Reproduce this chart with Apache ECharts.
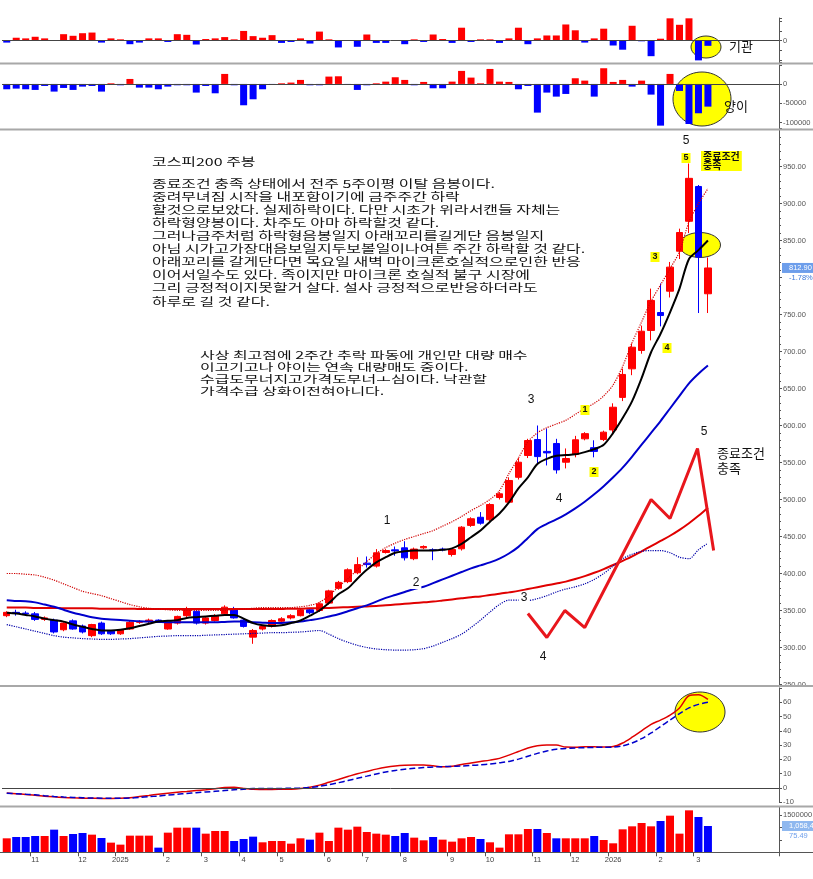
<!DOCTYPE html>
<html><head><meta charset="utf-8">
<script src="https://cdn.jsdelivr.net/npm/echarts@6/dist/echarts.min.js"></script>
<style>html,body{margin:0;padding:0;background:#fff}#c{width:813px;height:879px}</style>
</head><body><div id="c"></div><script>
// ---------- DATA ----------
const weeks = ['2024-10-07','2024-10-14','2024-10-21','2024-10-28','2024-11-04','2024-11-11','2024-11-18','2024-11-25','2024-12-02','2024-12-09','2024-12-16','2024-12-23','2024-12-30',
'2025-01-06','2025-01-13','2025-01-20','2025-01-27','2025-02-03','2025-02-10','2025-02-17','2025-02-24','2025-03-03','2025-03-10','2025-03-17','2025-03-24','2025-03-31','2025-04-07','2025-04-14','2025-04-21','2025-04-28','2025-05-05','2025-05-12','2025-05-19','2025-05-26','2025-06-02','2025-06-09','2025-06-16','2025-06-23','2025-06-30','2025-07-07','2025-07-14','2025-07-21','2025-07-28','2025-08-04','2025-08-11','2025-08-18','2025-08-25','2025-09-01','2025-09-08','2025-09-15','2025-09-22','2025-09-29','2025-10-06','2025-10-13','2025-10-20','2025-10-27','2025-11-03','2025-11-10','2025-11-17','2025-11-24','2025-12-01','2025-12-08','2025-12-15','2025-12-22','2025-12-29',
'2026-01-05','2026-01-12','2026-01-19','2026-01-26','2026-02-02','2026-02-09','2026-02-16','2026-02-23','2026-03-02','2026-03-09'];
const monthLabels = {'2024-10-28':'11','2024-12-02':'12','2024-12-30':'2025','2025-02-03':'2','2025-03-03':'3','2025-03-31':'4','2025-04-28':'5','2025-06-02':'6','2025-06-30':'7','2025-07-28':'8','2025-09-01':'9','2025-09-29':'10','2025-11-03':'11','2025-12-01':'12','2025-12-29':'2026','2026-02-02':'2','2026-03-02':'3'};

const opens = [343,347.5,346.5,345.5,338,337,324,336,329,316, 333,322,318.5,325,334,335,337,325,333,343, 349,333,336.5,345.5,351,337,314,325,328.8,335.5, 340,343,351,350,360,380,389,401,414,410, 428.4,432,434.7,420,434.7,432,433,425.7,433.4,465, 476,472.6,502.7,496.4,530,559.5,581,565,575.7,550.4, 561,582,570,581,594,638,676.6,701.4,728.4,752.7, 781.5,835.5,876,923,778];
const closes = [347.5,346.5,345.5,338,340,321,333,325,321,331, 318.5,318.5,324,334,335,337,336,333,342,352, 333,340,343,354.5,340,328.5,323,328.4,336.5,338.8, 343,350.8,347,359,376.5,388,405,412,412,428, 431,430.5,421.2,433,436.5,431,432,432.4,462.6,474, 468,493.2,507.7,525.7,550.4,579.7,558,563,540,555.4, 580.7,589,565,591,624.7,669,705.8,727.4,769,748.6, 814,860.8,934,827.6,812.9];
const lows = [341,343,343,336,336,319,322,324,319,314, 317,317,317,324,332,333,334,324,331,341, 331,331,335,344,339,327,305,323,327,334, 338,342,345,348,358,378,387,399,408,408, 427,424,417.6,418,433,418,430,423,431,463, 466,470,500,494,527,556,549,546,535,542, 557,580,557,579,590,633,668,697,715,734, 773,825,860,752,752];
const highs = [349,351,349,348,342,339,334,338,331,332, 335,323,325,336,337,339,338,335,343,355, 353,341,345,357,355,339,325,330,338,341, 345,352,353,361,378,390,407,422,423,433, 433,436.5,443.6,435,438,434,435,434,464,476, 483,495,510,530,556,582,600,596,582,569, 586,591,580,593,630,677,711,735,785,792, 821,866,954,925,827];

const ma5 = [347,346,344,342,339,337,335,331,328,325, 323,323,324,326,329,332,335,336,337,340, 341,342,343,344,344,339,333,330,329,330, 333,336.5,343,350,360,372,380,393,405,415, 422,428,430,431,431,431,432,434,440,449, 458,470,481,496,515,530,548,555,559,560, 561,564,568,574,590,610,633,664,699,724, 753,785,825,837,850];
const ma20 = [364,363,362.5,361,358,355,351,347,344,341, 339,338,337,336,335.5,335,334.5,334,334,334, 334,334,334,334.5,335,335,334,333.5,333,333, 334,335,337,339,342,345,349,353,357,362, 367,371,375,379,382,387,392,397,402,407, 411,415,420,427,436,448,460,467,473,480, 488,497,507,518,530,543,558,574,590,606, 623,640,657,670,681];
const ma60 = [354,354,354,353.5,353.5,353.5,353,353,353,353, 352.5,352.5,352.5,352.5,352,352,352,352,352,352, 352,352,352,352,352,352,352,352,352,352, 352.5,352.5,353,353,353.5,354,354.5,355,355.5,356, 357,358,359,360,361,362,363.5,365,366.5,368, 369,371,372.5,374.5,376.5,379,381.5,384,386.5,389, 392.5,396.5,401,406,411.5,417,423,430,437,444, 451,459,468,478,489];
const bbUpper = [400,400,399,398,395,391,386,381,376,373, 370,366,362,358,355,353,352,351,350,350, 350,350,350,350,351,352,353,354,354,354, 354,355,357,361,370,382,393,405,416,427, 435,441,446,450,454,458,464,470,477,485, 492,500,512,535,556,578,590,597,602,607, 615,623,630,640,655,680,712,740,768,790, 812,835,875,900,920];
const bbLower = [331,328,325,322,319,316,314,313,312,311.5, 311,311,311.5,312,313,314,315,315.5,316,316, 316,316.5,317,317.5,318,318.5,319,319.5,320,320, 320.5,321,322,323,318,312,307,303,300,298, 297,296.5,296.5,297,298.5,302,307,312,318,327, 337,348,358,364,364,363.5,366,370,375,379, 382,386,392,400,410,420,426,430,431,431, 428,422,420,432,441];

// 기관 (institution) weekly net
const instFlow = [-6000,9000,7000,12000,7000,500,20000,15000,23000,25000, -6000,7000,4000,-11000,-6000,7000,7000,-4000,20000,18000, -12000,5000,7000,11000,4000,30000,14000,9000,17000,-7000, -4000,7000,-9000,28000,4000,-21000,1000,-19000,19000,-7000, -7000,2000,-11000,4000,-4000,19000,5000,-7000,40000,-4000, 4000,4000,-7000,7000,40000,-11000,7000,16000,16000,50000, 32000,-6000,7000,37000,-15000,-28000,46000,-2000,-48000,6000, 69000,49000,69000,-61000,-16000];
// 양이 (foreign) weekly net
const foreignFlow = [-13800,-12100,-13800,-15500,-5200,-19800,-10400,-15500,-6900,-5200, -19800,1700,-3500,12900,-9500,-9500,-13800,-6900,-3500,-3500, -22400,-5200,-24200,25900,-3500,-55200,-39700,-13800,-2600,1700, 3500,10400,-3500,-3500,19000,19800,-1700,-15500,-3500,1700, 6000,17300,10400,-3500,5200,-11200,-11200,6000,33700,16400, 1700,38800,6000,5200,-13800,-5200,-74200,-22400,-32800,-25900, 14700,8600,-32800,40600,5200,10400,-6900,8600,-27600,-107900, 25900,-18100,-103600,-75900,-58700];

const oscMain = [-3.5,-4,-4.5,-5,-5.7,-6.2,-6.6,-6.9,-7.1,-7.2, -7.3,-7.3,-7.2,-6.8,-6,-5.2,-4.4,-3.7,-3,-2.4, -1.8,-1.2,-0.5,0.3,0.5,-0.3,-0.9,-1,-1,-0.9, -0.8,-0.3,0.6,2,4,6,8,10,11.6,13.2, 14.5,15.4,15.9,16.1,16.1,15.5,14.8,15.2,16.5,17.5, 18.5,19.5,20.7,23,25.5,28,29.5,30,30,28.6, 28.5,28.8,28.8,28.7,29,31.5,35.5,40,44.5,47.5, 51,56,64.5,65.2,62];
const oscSignal = [-3.7,-4,-4.4,-4.8,-5.4,-5.9,-6.3,-6.6,-6.8,-7, -7.1,-7.2,-7.2,-7,-6.6,-6.1,-5.6,-5,-4.4,-3.8, -3.3,-2.8,-2.3,-1.8,-1.3,-0.8,-0.4,-0.3,-0.3,-0.3, -0.2,-0.1,0.4,1.2,2.3,3.7,5.2,6.8,8.3,9.8, 11.2,12.3,13.1,13.8,14.3,14.7,14.9,15.1,15.4,15.8, 16.2,16.8,17.6,18.6,20.2,22.2,24.2,25.9,27.1,27.7, 28,28.2,28.4,28.5,28.6,29.5,31.5,34.5,38.5,43, 47.5,52,56,58.5,60];

const volume = [562500,616100,616100,656300,656300,910700,656300,736600,776800,709800, 575900,388400,308000,669600,669600,669600,187500,790200,991100,991100, 991100,750000,857200,857200,455400,535700,629500,401800,455400,455400, 348200,562500,508900,790200,455400,991100,910700,1031300,817000,750000, 709800,656300,776800,589300,482100,616100,508900,428600,562500,616100, 535700,401800,187500,723200,723200,937500,937500,776800,562500,562500, 562500,562500,656300,495500,361600,924100,1044700,1178600,1044700,1258900, 1473200,750000,1687500,1419700,1058412];
const volUp = [1,0,0,0,1,0,1,0,0,1, 0,1,1,1,1,1,0,1,1,1, 0,1,1,1,0,0,0,1,1,1, 1,1,0,1,1,1,1,1,1,1, 1,0,0,1,1,0,1,1,1,1, 0,1,1,1,1,1,0,1,0,1, 1,1,0,1,1,1,1,1,1,0, 1,1,1,0,0];
const volExtraLabel = '75.49';

// hand-drawn wave annotation (bar index, price)
const waveIdx = [55,57,58.9,61,68,70,72.9,74.6];
const wavePrice = [346,313.5,350,327,500,474.3,569,431];

// texts
const noteTitle = '코스피200 주봉';
const noteLines = [
 '종료조건 충족 상태에서 전주 5주이평 이탈 음봉이다.',
 '중려무녀짐 시작을 내포함이기에 금주주간 하락',
 '할것으로보았다. 실제하락이다. 다만 시초가 위라서캔들 자체는',
 '하락형양봉이다. 차주도 아마 하락할것 같다.',
 '그러나금주처럼 하락형음봉일지 아래꼬리를길게단 음봉일지',
 '아님 시가고가장대음보일지두보볼일이나여튼 주간 하락할 것 같다.',
 '아래꼬리를 갈게단다면 목요일 새벽 마이크론호실적으로인한 반응',
 '이어서일수도 있다. 족이지만 마이크론 호실적 불구 시장에',
 '그리 긍정적이지못할거 살다. 설사 긍정적으로반응하더라도',
 '하루로 길 것 같다.'
];
const note2Lines = [
 '사상 최고점에 2주간 추락 파동에 개인만 대량 매수',
 '이고기고나 야이는 연속 대량매도 중이다.',
 '수급도무너지고가격도무너ㅗ심이다. 낙관할',
 '가격수급 상화이전혀아니다.'
];

// ---------- CHART ----------
const RED = '#ff0000', BLUE = '#0000ff';
const N_SLOTS = 82;
const cats = weeks.concat(Array.from({length: N_SLOTS - weeks.length}, (_, k) => 'pad' + k));
const L = 2, R = 34;
const AX = '#555';
const FONT = 'Liberation Sans';
const KFONT = '"Noto Sans CJK KR"';

const grids = [
  {left:L, right:R, top:18, height:44},
  {left:L, right:R, top:65, height:63},
  {left:L, right:R, top:129.5, height:555},
  {left:L, right:R, top:687.9, height:114.4},
  {left:L, right:R, top:806.5, height:45.8}
].map(g => Object.assign(g, {containLabel:false, outerBoundsMode:'none'}));

function hiddenCat(gi){
  return {type:'category', gridIndex:gi, data:cats, boundaryGap:true, axisLine:{show:false}, axisTick:{show:false}, axisLabel:{show:false}, splitLine:{show:false}};
}
const isLabeled = (i, v) => monthLabels[v] !== undefined;
const lbl = (fmt) => ({show:true, fontSize:7.5, color:'#555', fontFamily:FONT, margin:4, formatter:fmt});

const yBase = (gi, extra) => Object.assign({
  type:'value', gridIndex:gi, position:'right', scale:false,
  axisLine:{show:true, onZero:false, lineStyle:{color:AX, width:1}},
  axisTick:{show:true, length:3, lineStyle:{color:AX}},
  splitLine:{show:false}
}, extra);

const lineS = (data, color, width, type, extra) => Object.assign({
  type:'line', xAxisIndex:2, yAxisIndex:2, data, symbol:'none', smooth:0.3,
  lineStyle:{color, width, type}, silent:true, z:3
}, extra || {});

const zeroMark = {silent:true, symbol:['none','none'], label:{show:false},
  lineStyle:{color:'#444', width:1, type:'solid'}, data:[{yAxis:0}]};

const option = {
  animation:false,
  backgroundColor:'#fff',
  grid: grids,
  xAxis: [
    hiddenCat(0), hiddenCat(1), hiddenCat(2), hiddenCat(3),
    {type:'category', gridIndex:4, data:cats, boundaryGap:true,
     axisLine:{show:false},
     axisTick:{show:true, interval:isLabeled, length:4, lineStyle:{color:AX}},
     axisLabel:{show:true, interval:isLabeled, formatter:v => monthLabels[v] || '', fontSize:7.5, color:'#444', fontFamily:FONT, margin:4},
     splitLine:{show:false}},
    {type:'value', gridIndex:2, min:-0.5, max:N_SLOTS-0.5, show:false, axisLine:{show:false, onZero:false}}
  ],
  yAxis: [
    yBase(0, {min:-66000, max:70000, axisLabel:lbl(v => v === 0 ? '0' : '')}),
    yBase(1, {min:-114000, max:49000, splitNumber:3, axisLabel:lbl(v => (v % 50000 === 0) ? String(v) : '')}),
    yBase(2, {min:250, max:1000, interval:50,
      minorTick:{show:true, splitNumber:5, length:2, lineStyle:{color:AX}},
      axisLabel:lbl(v => (v === 1000 || v === 800) ? '' : v.toFixed(2))}),
    yBase(3, {min:-10, max:70, interval:10, axisLabel:lbl(v => v === 70 ? '' : String(v))}),
    yBase(4, {min:0, max:1842000, interval:500000, axisLabel:lbl(v => v === 1500000 ? '1500000' : '')})
  ],
  series: [
    {type:'bar', xAxisIndex:0, yAxisIndex:0, barWidth:7, silent:true,
     data: instFlow.map(v => ({value:v, itemStyle:{color: v >= 0 ? RED : BLUE}})), markLine: zeroMark, z:2},
    {type:'bar', xAxisIndex:1, yAxisIndex:1, barWidth:7, silent:true,
     data: foreignFlow.map(v => ({value:v, itemStyle:{color: v >= 0 ? RED : BLUE}})), markLine: zeroMark, z:2},
    {type:'candlestick', xAxisIndex:2, yAxisIndex:2, barWidth:7, silent:true,
     data: opens.map((o, i) => [o, closes[i], lows[i], highs[i]]),
     itemStyle:{color:RED, color0:BLUE, borderColor:RED, borderColor0:BLUE, borderColorDoji:BLUE, borderWidth:1}, z:2},
    lineS(ma60, '#e00000', 2, 'solid'),
    lineS(ma20, '#0000cc', 2, 'solid'),
    lineS(bbUpper, '#d00000', 1.2, 'dotted'),
    lineS(bbLower, '#0000aa', 1.2, 'dotted'),
    lineS(ma5, '#000000', 2, 'solid', {z:4}),
    {type:'line', xAxisIndex:5, yAxisIndex:2, data: waveIdx.map((x, i) => [x, wavePrice[i]]),
     symbol:'none', smooth:false, lineStyle:{color:'#e8161c', width:3}, silent:true, z:4},
    {type:'line', xAxisIndex:3, yAxisIndex:3, data: oscMain, symbol:'none', smooth:0.3,
     lineStyle:{color:'#e00000', width:1.5}, silent:true, markLine: zeroMark, z:3},
    {type:'line', xAxisIndex:3, yAxisIndex:3, data: oscSignal, symbol:'none', smooth:0.3,
     lineStyle:{color:'#0000cc', width:1.5, type:'dashed'}, silent:true, z:3},
    {type:'bar', xAxisIndex:4, yAxisIndex:4, barWidth:8, silent:true,
     data: volume.map((v, i) => ({value:v, itemStyle:{color: volUp[i] ? RED : BLUE}})), z:2}
  ]
};

const chart = echarts.init(document.getElementById('c'), null, {renderer:'canvas'});
chart.setOption(option);

// ---------- ANNOTATIONS ----------
const G = [];
const txt = (t, x, y, st, extra) => Object.assign({type:'text', x, y, z:100, silent:true,
  style:Object.assign({text:t, fill:'#111', font:'12px ' + KFONT, align:'left', verticalAlign:'middle'}, st || {})},
  extra || {});
// yellow ellipses (behind the marks)
[[706,47,15,11],[702,99,29,27],[700,245,20.5,12.5],[700,712,25,20]].forEach(e =>
  G.push({type:'ellipse', shape:{cx:e[0], cy:e[1], rx:e[2], ry:e[3]}, style:{fill:'#ffff00', stroke:'#333', lineWidth:1}, z:0, silent:true}));
// separators
[63.5, 129.5, 686, 806.5].forEach(y => G.push({type:'line', shape:{x1:0, y1:y, x2:813, y2:y}, style:{stroke:'#a8a8a8', lineWidth:2}, z:50, silent:true}));
G.push({type:'line', shape:{x1:0, y1:852.5, x2:813, y2:852.5}, style:{stroke:'#555', lineWidth:1}, z:50, silent:true});
// main notes
const NOTE_FONT = '11px ' + KFONT;
G.push(txt(noteTitle, 152, 162, {font:NOTE_FONT}, {scaleX:1.45}));
noteLines.forEach((s, k) => G.push(txt(s, 152, 183.5 + 13.1 * k, {font:NOTE_FONT}, {scaleX:1.45})));
note2Lines.forEach((s, k) => G.push(txt(s, 200, 355 + 12 * k, {font:'10.5px ' + KFONT}, {scaleX:1.52})));
// side labels
G.push(txt('기관', 729, 46, {font:'13px ' + KFONT}));
G.push(txt('양이', 724, 106, {font:'13px ' + KFONT}));
G.push(txt('종료조건', 717, 453, {font:'13px ' + KFONT}));
G.push(txt('충족', 717, 468, {font:'13px ' + KFONT}));
// wave numbers
[['1',387,521,0],['2',416,583,1],['3',531,400,0],['4',559,499,0],['5',686,141,0],['3',524,598,1],['4',543,657,0],['5',704,432,0]].forEach(a =>
  G.push(txt(a[0], a[1], a[2], a[3] ? {font:'12px ' + FONT, align:'center', backgroundColor:'#fff', padding:[0,2]} : {font:'12px ' + FONT, align:'center'})));
// yellow number tags
[['1',585,410],['2',594,472],['3',655,257],['4',667,348],['5',686,158]].forEach(a =>
  G.push(txt(a[0], a[1], a[2], {font:'bold 9px ' + FONT, align:'center', backgroundColor:'#ffff00', padding:[1,2,0,2]})));
G.push(txt('종료조건\n충족', 701, 151, {font:'bold 10px ' + KFONT, lineHeight:9.5, verticalAlign:'top', backgroundColor:'#ffff00', padding:[0,2,1,2]}));
// last-value tags on the right
const lastClose = closes[closes.length - 1], prevClose = closes[closes.length - 2];
const yP = chart.convertToPixel({yAxisIndex:2}, lastClose);
G.push({type:'rect', shape:{x:782, y:yP - 5, width:31, height:10}, style:{fill:'#6d9eeb'}, z:60, silent:true});
G.push(txt(lastClose.toFixed(2), 789, yP, {font:'7.5px ' + FONT, fill:'#fff'}));
G.push(txt(((lastClose / prevClose - 1) * 100).toFixed(2) + '%', 789, yP + 10, {font:'7.5px ' + FONT, fill:'#3c78d8'}));
const lastVol = volume[volume.length - 1];
const yV = chart.convertToPixel({yAxisIndex:4}, lastVol);
G.push({type:'rect', shape:{x:782, y:yV - 5, width:31, height:10}, style:{fill:'#8fb8ef'}, z:60, silent:true});
G.push(txt(lastVol.toLocaleString('en-US'), 789, yV, {font:'7.5px ' + FONT, fill:'#fff'}));
G.push(txt(volExtraLabel, 789, yV + 9.5, {font:'7.5px ' + FONT, fill:'#6d9eeb'}));

chart.setOption({graphic: G});
</script></body></html>
